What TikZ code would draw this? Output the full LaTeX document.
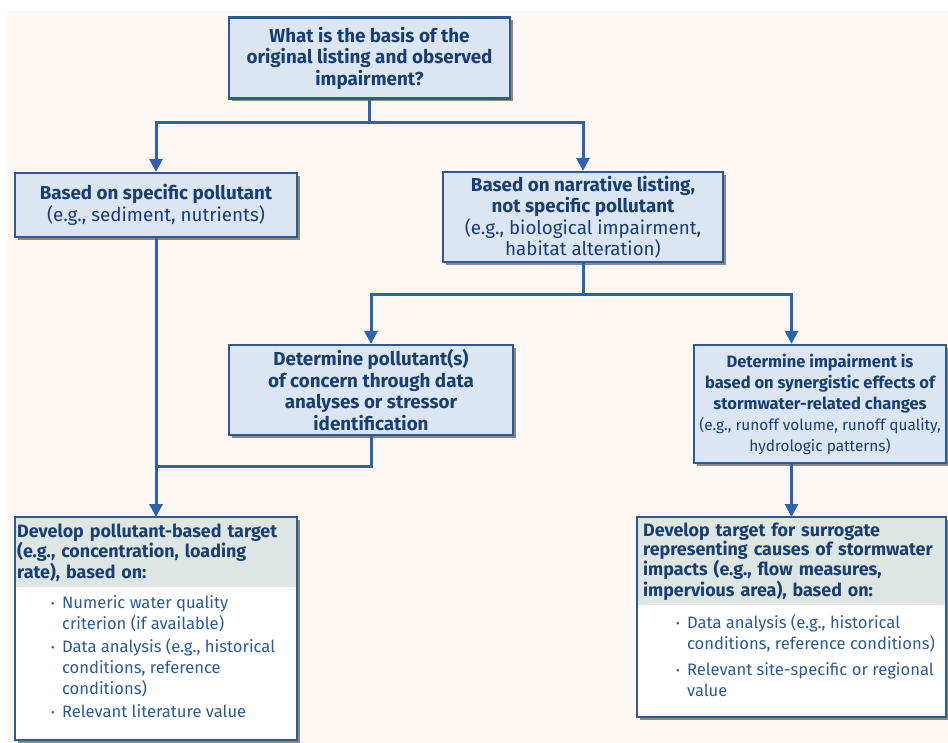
\documentclass[tikz,border=0pt]{standalone}
\usepackage{fontspec}
\setmainfont{Fira Sans}
\usetikzlibrary{arrows.meta,shadows}
\definecolor{cream}{HTML}{FDF8F3}
\definecolor{boxfill}{HTML}{DCE6F2}
\definecolor{boxedge}{HTML}{2D5A92}
\definecolor{linkblue}{HTML}{2C62AE}
\definecolor{navy}{HTML}{173F73}
\definecolor{itemblue}{HTML}{2A5A9C}
\definecolor{headfill}{HTML}{DEE6E4}
\newcommand{\bul}{\makebox[11pt][l]{\raisebox{1.5pt}{\fontsize{11}{11}\selectfont\textbullet}}}
\newcommand{\smallpar}[1]{{\fontsize{15.4}{21}\selectfont #1}}
\begin{document}
\begin{tikzpicture}[x=1pt,y=-1pt,
  qbox/.style={draw=boxedge, line width=2.2pt, fill=boxfill, text=navy, align=center, inner sep=0pt,
    drop shadow={shadow xshift=3pt, shadow yshift=-3pt, fill=black, opacity=.45},
    font=\fontsize{18.8}{21.5}\selectfont},
  targetbox/.style={draw=boxedge, line width=2.2pt, fill=white, inner sep=0pt, outer sep=0pt,
    drop shadow={shadow xshift=3pt, shadow yshift=-3pt, fill=black, opacity=.45}},
  headbox/.style={fill=headfill, text=navy, align=left, inner ysep=0pt, outer sep=0pt,
    font=\fontsize{17.9}{19}\selectfont\bfseries},
  itemlist/.style={text=itemblue, inner sep=0pt, outer sep=0pt, font=\fontsize{16.6}{21}\selectfont},
  link/.style={draw=linkblue, line width=3pt},
  arrow/.style={link, -{Triangle[width=13pt,length=13pt]}}]
\useasboundingbox (0,0) rectangle (948,743);
\fill[white] (0,0) rectangle (948,743);
\fill[cream] (7,11) rectangle (948,743);

\node[qbox, minimum width=281, minimum height=81] (basis) at (369.5,58)
  {{\bfseries What is the basis of the}\\{\bfseries original listing and observed}\\{\bfseries impairment?}};
\node[qbox, minimum width=282, minimum height=64] (spec) at (156,205)
  {{\bfseries Based on specific pollutant}\\(e.g., sediment, nutrients)};
\node[qbox, minimum width=280, minimum height=90] (narr) at (583,217)
  {{\bfseries Based on narrative listing,}\\{\bfseries not specific pollutant}\\(e.g., biological impairment,\\habitat alteration)};
\node[qbox, minimum width=284, minimum height=90] (conc) at (371,390)
  {{\bfseries Determine pollutant(s)}\\{\bfseries of concern through data}\\{\bfseries analyses or stressor}\\{\bfseries identification}};
\node[qbox, minimum width=252, minimum height=118, font=\fontsize{16.5}{21}\selectfont] (syn) at (820,404)
  {{\bfseries Determine impairment is}\\{\bfseries based on synergistic effects of}\\{\bfseries stormwater-related changes}\\\smallpar{(e.g., runoff volume, runoff quality,}\\\smallpar{hydrologic patterns)}};

\node[targetbox, minimum width=282, minimum height=223, anchor=north west] (polltarget) at (15,517) {};
\node[headbox, inner xsep=1pt, text width=277.6, minimum width=279.8, minimum height=68.9, anchor=north west]
  (pollhead) at ([shift={(1.1,1.1)}]polltarget.north west)
  {Develop pollutant-based target\\(e.g., concentration, loading\\rate), based on:};
\node[itemlist, anchor=north west] (pollitems) at ([shift={(35,7)}]pollhead.south west)
  {\begin{tabular}{@{}l@{}l@{}}
   \bul & Numeric water quality\\
        & criterion (if available)\\[2pt]
   \bul & Data analysis (e.g., historical\\
        & conditions, reference\\
        & conditions)\\[2pt]
   \bul & Relevant literature value
   \end{tabular}};

\node[targetbox, minimum width=309, minimum height=200, anchor=north west] (surrtarget) at (637,517) {};
\node[headbox, inner xsep=5pt, text width=296.8, minimum width=306.8, minimum height=86.9, anchor=north west]
  (surrhead) at ([shift={(1.1,1.1)}]surrtarget.north west)
  {Develop target for surrogate\\representing causes of stormwater\\impacts (e.g., flow measures,\\impervious area), based on:};
\node[itemlist, anchor=north west] (surritems) at ([shift={(38,9)}]surrhead.south west)
  {\begin{tabular}{@{}l@{}l@{}}
   \bul & Data analysis (e.g., historical\\
        & conditions, reference conditions)\\[5pt]
   \bul & Relevant site-specific or regional\\
        & value
   \end{tabular}};

\coordinate (basissplit) at (369.5,123);
\coordinate (narrsplit) at (583,295);
\coordinate (concjoin) at (156,466);
\draw[link] (basis.south) -- (basissplit);
\draw[arrow] (basissplit) -| (spec.north);
\draw[arrow] (basissplit) -| (narr.north);
\draw[link] (narr.south) -- (narrsplit);
\draw[arrow] (narrsplit) -| (conc.north);
\draw[arrow] (narrsplit) -| (surrtarget.north |- syn.north);
\draw[arrow] (syn.south -| surrtarget.north) -- (surrtarget.north);
\draw[link] (conc.south) |- (concjoin);
\draw[arrow] (spec.south) -- (polltarget.north);
\end{tikzpicture}
\end{document}
